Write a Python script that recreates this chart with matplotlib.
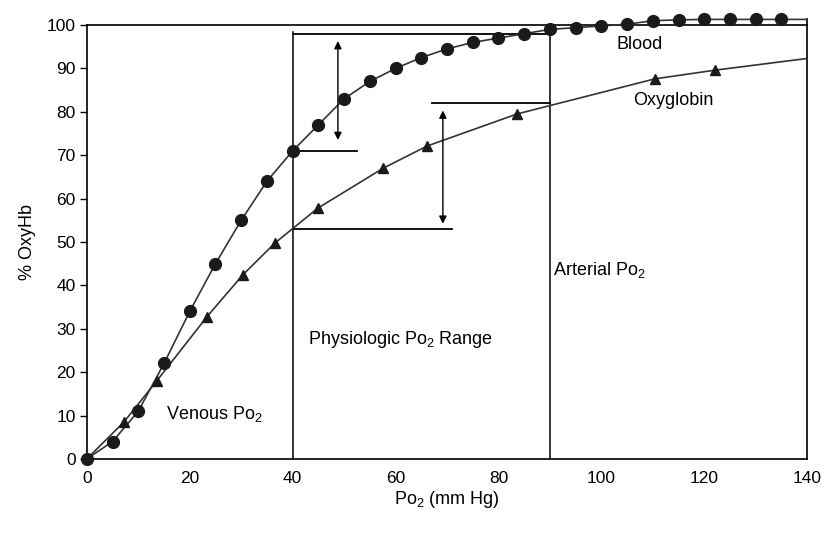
import numpy as np
import matplotlib.pyplot as plt

plt.rcParams['font.family'] = ['Liberation Sans', 'DejaVu Sans']
plt.rcParams['mathtext.fontset'] = 'custom'
plt.rcParams['mathtext.rm'] = 'Liberation Sans'
plt.rcParams['mathtext.it'] = 'Liberation Sans'

# blood saturation curve (circles)
blood_po2 = [0, 5, 10, 15, 20, 25, 30, 35, 40, 45, 50, 55, 60, 65, 70, 75, 80, 85,
             90, 95, 100, 105, 110, 115, 120, 125, 130, 135]
blood_sat = [0, 4, 11, 22, 34, 45, 55, 64, 71, 77, 83, 87, 90, 92.5, 94.5, 96, 97, 98,
             99, 99.4, 99.8, 100.2, 101, 101.2, 101.3, 101.3, 101.3, 101.3]
blood_end = (140, 101.3)

# oxyglobin curve (triangles)
oxy_po2 = [0, 7.2, 13.6, 23.3, 30.3, 36.6, 44.9, 57.6, 66.1, 83.6, 110.4, 122.1]
oxy_sat = [0, 8.5, 18, 32.7, 42.4, 49.8, 57.8, 67, 72.1, 79.5, 87.6, 89.6]
oxy_end = (140, 92.3)

venous, arterial = 40, 90

fig = plt.figure(figsize=(8.27, 5.33), dpi=100)
ax = fig.add_axes([0.105, 0.139, 0.871, 0.814])

ax.plot(blood_po2 + [blood_end[0]], blood_sat + [blood_end[1]], color='#333333', lw=1.2,
        clip_on=False, zorder=3)
ax.plot(blood_po2, blood_sat, 'o', color='#1a1a1a', ms=8.5, clip_on=False, zorder=4)
ax.plot(oxy_po2 + [oxy_end[0]], oxy_sat + [oxy_end[1]], color='#333333', lw=1.2, zorder=3)
ax.plot(oxy_po2[1:], oxy_sat[1:], '^', color='#1a1a1a', ms=7, zorder=4)

# vertical region lines
ax.plot([venous, venous], [0, 98.5], color='black', lw=1.1)
ax.plot([arterial, arterial], [0, 99.5], color='black', lw=1.1)
ax.plot([140, 140], [100, 101.5], color='black', lw=1.2, clip_on=False)

# horizontal reference lines
ax.plot([40, 90], [98, 98], color='black', lw=1.3)
ax.plot([40, 52.5], [71, 71], color='black', lw=1.3)
ax.plot([67, 90], [82, 82], color='black', lw=1.3)
ax.plot([40, 71], [53, 53], color='black', lw=1.3)

arrow = dict(arrowstyle='<|-|>', color='black', lw=1.0, mutation_scale=11, shrinkA=0, shrinkB=0)
ax.annotate('', xy=(48.8, 73.5), xytext=(48.8, 96.3), arrowprops=arrow)
ax.annotate('', xy=(69.2, 54.2), xytext=(69.2, 80.3), arrowprops=arrow)

fs = 13
ax.text(107.5, 95.5, 'Blood', fontsize=fs, ha='center', va='center')
ax.text(114, 82.5, 'Oxyglobin', fontsize=fs, ha='center', va='center')
ax.text(90.6, 43.5, r'Arterial Po$_2$', fontsize=fs, ha='left', va='center')
ax.text(61, 27.5, r'Physiologic Po$_2$ Range', fontsize=fs, ha='center', va='center')
ax.text(24.7, 10.3, r'Venous Po$_2$', fontsize=fs, ha='center', va='center')

ax.set_xlim(0, 140)
ax.set_ylim(0, 100)
ax.set_xticks(np.arange(0, 141, 20))
ax.set_yticks(np.arange(0, 101, 10))
ax.tick_params(axis='y', direction='out', length=5, width=1, labelsize=12.5, pad=3)
ax.tick_params(axis='x', direction='out', length=0, labelsize=12.5, pad=9)
for s in ax.spines.values():
    s.set_linewidth(1.2)

ax.set_xlabel(r'Po$_2$ (mm Hg)', fontsize=fs, labelpad=2)
ax.set_ylabel('% OxyHb', fontsize=fs, labelpad=8)

plt.savefig('out.png', dpi=100)
